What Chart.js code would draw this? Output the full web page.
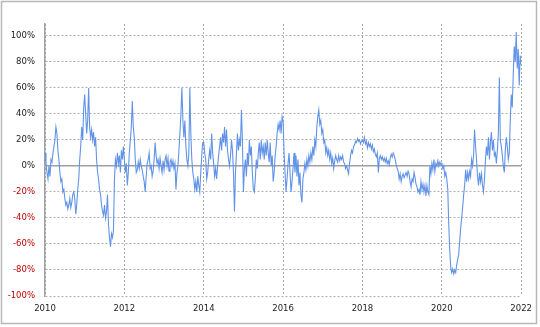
<!DOCTYPE html>
<html>
<head>
<meta charset="utf-8">
<script src="https://cdn.jsdelivr.net/npm/chart.js@4/dist/chart.umd.min.js"></script>
<style>
  html, body { margin: 0; padding: 0; background: #fff; }
  #box { width: 540px; height: 327px; }
</style>
</head>
<body>
<div id="box"><canvas id="grafico" width="540" height="327"></canvas></div>
<script>
// Valores (%), 40 pontos por ano
const anoInicio = 2010;
const pontosPorAno = 40;

const v2010 = [10, 2, -5, -10, 0, -8, 5, 3, 10, 15, 20, 30, 25, 12, 5, -5, -12, -10, -20, -18,
  -25, -30, -28, -33, -30, -25, -32, -28, -22, -20, -25, -37, -30, -18, -10, 5, 15, 30, 20, 45];
const v2011 = [55, 40, 25, 35, 60, 30, 22, 28, 20, 26, 15, 22, 5, -5, -10, -18, -22, -30, -35, -38,
  -30, -40, -35, -22, -45, -55, -62, -52, -55, -50, -10, 5, 0, 10, 2, 8, -5, 12, 5, 15];
const v2012 = [5, -5, 2, -15, -5, 10, 20, 30, 50, 30, 22, 5, -5, -3, 3, -2, 5, 0, -3, -8,
  -12, -20, -8, 2, 5, 10, -2, 0, -8, -4, 5, 18, 8, 2, 5, -2, 6, 0, -5, 4];
const v2013 = [-3, 5, 8, 0, 6, -4, 3, 5, 0, 4, -2, 2, -18, -5, 0, 12, 25, 40, 60, 35,
  22, 35, 15, 5, 0, 10, 60, 25, 5, -5, -10, -18, -12, -20, -8, -15, -20, -5, 8, 18];
const v2014 = [18, 10, 5, -10, -5, 5, 12, 5, 25, 10, 2, -8, -2, -10, 0, 8, 15, 22, 12, 25,
  18, 30, 15, 28, 12, 5, 0, 8, 20, 12, -5, -35, -5, 10, 25, 12, 20, 15, 43, 20];
const v2015 = [-20, -2, 5, -8, 10, 0, 20, 8, 15, -5, -18, -20, -10, 5, -2, 10, 18, 5, 20, 10,
  15, 5, 18, 8, 20, 10, 3, 18, 0, 8, -12, -5, 8, 15, 25, 32, 28, 35, 25, 38];
const v2016 = [35, 10, -5, -20, -10, 2, 10, -5, -20, -12, -2, 10, -5, 8, -8, 5, -15, -5, -22, -28,
  -10, -5, 2, -3, 5, 0, 8, 3, 10, 5, 15, 8, 20, 15, 30, 38, 43, 32, 35, 25];
const v2017 = [28, 18, 20, 10, 14, 8, 12, 5, 10, 2, 6, -2, 4, 8, 5, 3, 8, 4, 7, 5,
  8, 3, 2, -2, 0, -3, -6, 2, 8, 12, 10, 15, 16, 19, 18, 21, 19, 20, 17, 19];
const v2018 = [20, 18, 22, 17, 19, 14, 18, 15, 17, 13, 16, 11, 13, 9, 7, 10, -5, 6, 8, 5,
  7, 4, 6, 3, 6, 2, 4, 1, 6, 9, 7, 10, 8, 5, 1, -2, -4, -10, -6, -12];
const v2019 = [-8, -6, -9, -7, -5, -8, -4, -6, -12, -16, -10, -12, -5, -9, -14, -16, -20, -18, -22, -12,
  -18, -14, -20, -15, -23, -15, -20, -22, 0, -6, 2, -3, 5, -4, 2, 0, 4, 0, 3, 1];
const v2020 = [2, -2, 0, -8, -5, -10, -18, -45, -65, -78, -82, -79, -83, -80, -82, -76, -72, -68, -58, -48,
  -40, -32, -22, -15, -3, -12, -5, -10, -4, -8, 5, 0, 8, 28, 15, 5, -8, -15, -5, -12];
const v2021 = [-6, -15, -20, -10, 5, 15, 8, 22, 5, 18, 26, 12, 20, 8, 10, 2, 12, 25, 68, 20,
  15, 8, 0, -5, 12, 22, 15, 5, 10, 35, 55, 45, 70, 92, 80, 103, 75, 90, 62, 85];
const vFinal = [78];

const anosEixo = [2010, 2012, 2014, 2016, 2018, 2020, 2022];
const valoresEixoY = [-100, -80, -60, -40, -20, 0, 20, 40, 60, 80, 100];

// Montar os pontos (ano fracionário, valor)
const todosValores = [].concat(v2010, v2011, v2012, v2013, v2014, v2015,
  v2016, v2017, v2018, v2019, v2020, v2021, vFinal);
const pontos = todosValores.map((v, i) => ({ x: anoInicio + i / pontosPorAno, y: v }));

const fonteEixo = { family: 'DejaVu Sans', size: 8.5 };

// Fundo branco e moldura cinza
const moldura = {
  id: 'moldura',
  beforeDraw(chart) {
    const ctx = chart.ctx;
    ctx.save();
    ctx.fillStyle = '#fff';
    ctx.fillRect(0, 0, chart.width, chart.height);
    ctx.strokeStyle = '#b8b8b8';
    ctx.lineWidth = 1.5;
    ctx.strokeRect(1.5, 1.5, 535, 322);
    ctx.restore();
  }
};

new Chart(document.getElementById('grafico').getContext('2d'), {
  type: 'line',
  data: {
    datasets: [{
      data: pontos,
      borderColor: '#6193e8',
      borderWidth: 1.1,
      pointRadius: 0,
      tension: 0,
      fill: false
    }]
  },
  options: {
    responsive: false,
    animation: false,
    layout: { padding: { left: 0, right: 15, top: 24, bottom: 0 } },
    plugins: { legend: { display: false }, tooltip: { enabled: false } },
    scales: {
      x: {
        type: 'linear',
        min: 2010,
        max: 2022,
        afterBuildTicks: (scale) => { scale.ticks = anosEixo.map(a => ({ value: a })); },
        afterFit: (scale) => { scale.height = 31; },
        ticks: {
          color: '#222',
          font: fonteEixo,
          padding: 8,
          maxRotation: 0,
          callback: (v) => String(v)
        },
        grid: { color: '#a8a8a8', lineWidth: 1, drawTicks: false },
        border: { display: false, dash: [2, 2] }
      },
      y: {
        min: -100,
        max: 109.2,
        afterBuildTicks: (scale) => { scale.ticks = valoresEixoY.map(v => ({ value: v })); },
        afterFit: (scale) => { scale.width = 45; },
        ticks: {
          font: fonteEixo,
          padding: 10,
          color: (c) => (c.tick && c.tick.value < 0 ? '#c00000' : '#222'),
          callback: (v) => v + '%'
        },
        grid: {
          color: (c) => (c.tick && c.tick.value === 0 ? '#a0a0a0' : '#b0b0b0'),
          lineWidth: (c) => (c.tick && c.tick.value === 0 ? 1.5 : 1),
          drawTicks: false
        },
        border: {
          display: true,
          color: '#a0a0a0',
          width: 1.5,
          dash: (c) => (c.tick && c.tick.value === 0 ? [] : [2, 2])
        }
      }
    }
  },
  plugins: [moldura]
});
</script>
</body>
</html>
